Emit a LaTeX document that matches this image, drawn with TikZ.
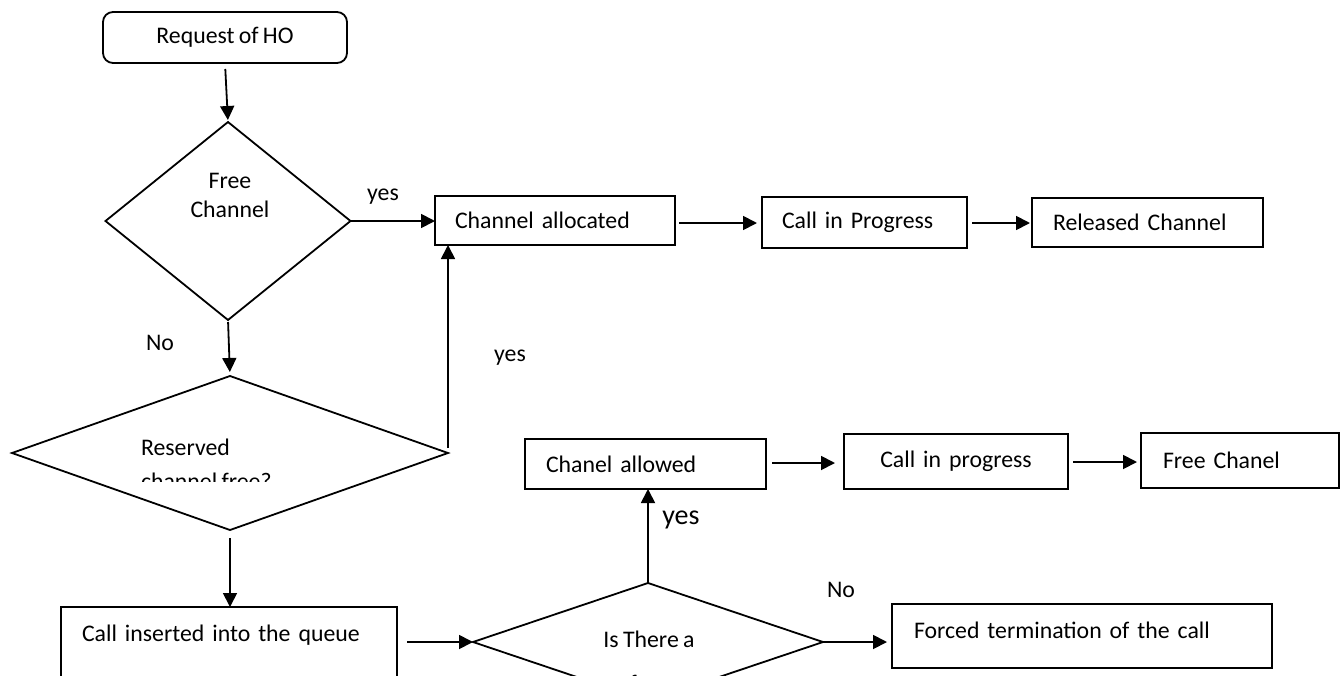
\documentclass[tikz,border=0pt]{standalone}
\usepackage{fontspec}
\setmainfont{Carlito}[WordSpace=0.8]
\usetikzlibrary{arrows.meta,shapes.geometric}
\begin{document}
\begin{tikzpicture}[x=1pt,y=-1pt,
  every node/.style={font=\fontsize{23.8}{34}\selectfont,outer sep=0pt},
  arr/.style={line width=1.8pt,-{Triangle[length=14pt,width=14pt]}},
  box/.style n args={3}{draw,line width=1.8pt,rectangle,anchor=north west,
    text width=#1pt,minimum height=#2pt,inner xsep=#3pt,inner ysep=0pt,align=left},
  dia/.style={draw,line width=1.8pt,diamond,inner sep=0pt},
  lbl/.style={inner sep=0pt}
]
\useasboundingbox (0,0) rectangle (1341,675);
\clip (0,0) rectangle (1341,675);

% start
\node[draw,line width=1.8pt,rounded corners=10pt,minimum width=244pt,minimum height=51pt,inner sep=0pt]
  (req) at (225,37.5) {Request of HO};

% decisions
\node[dia,minimum width=245pt,minimum height=198pt] (fc) at (228,221) {};
\node[lbl,align=center,font=\fontsize{23.8}{29}\selectfont,anchor=north] (fctext) at (230,173) {Free\\Channel};

\node[dia,minimum width=436pt,minimum height=154pt] (res) at (230,453) {};
\begin{scope}
  \clip (0,0) rectangle (1341,481);
  \node[lbl,align=left,anchor=north west] (restext) at (141,439) {Reserved\\channel free?};
\end{scope}

\node[dia,minimum width=350pt,minimum height=118pt] (ist) at (648,642) {};
\node[lbl,align=center,anchor=north,font=\fontsize{23.8}{44}\selectfont] (isttext) at (649,631) {Is There a\\free};

% process boxes
\node[box={200}{49}{20}] (challoc) at (435,196) {Channel allocated};
\node[box={165}{51}{20}] (cip1) at (762,197) {Call in Progress};
\node[box={189}{49}{21}] (rel) at (1032,198) {Released Channel};

\node[box={199}{50}{21}] (challow) at (525,439) {Chanel allowed};
\node[box={184}{55}{20},align=center] (cip2) at (844,434) {Call in progress};
\node[box={154}{55}{22}] (freech) at (1141,433) {Free Chanel};

\node[box={336}{0}{22},text height=34pt,text depth=30pt] (forced) at (892,604) {Forced termination of the call};
\node[box={294}{0}{21},text height=34pt,text depth=56pt] (ins) at (61,607) {Call inserted into the queue};

% labels
\node[lbl] (yes1) at (383,197) {yes};
\node[lbl] (no1) at (160,343) {No};
\node[lbl] (yes2) at (510,358) {yes};
\node[lbl,font=\fontsize{28}{34}\selectfont] (yes3) at (681,520) {yes};
\node[lbl] (no2) at (841,590) {No};

% connectors
\draw[arr,shorten <=6pt,shorten >=2pt] (req.south) -- (fc.north);
\draw[arr,shorten <=2pt,shorten >=4pt] (fc.south) -- (res.north);
\draw[arr] (fc.east) -- (fc.east -| challoc.west);
\draw[arr] (res.east) ++(0,-5) -- (res.east |- challoc.south);
\draw[arr,shorten <=4pt,shorten >=5pt] (challoc.east |- 0,223) -- (cip1.west |- 0,223);
\draw[arr,shorten <=5pt,shorten >=2pt] (cip1.east |- 0,223) -- (rel.west |- 0,223);
\draw[arr,shorten <=8pt] (res.south) -- (res.south |- ins.north);
\draw[arr,shorten <=10pt] (ist.west -| ins.east) -- (ist.west);
\draw[arr,shorten >=5pt] (ist.east) -- (ist.east -| forced.west);
\draw[arr] (ist.north) -- (ist.north |- challow.south);
\draw[arr,shorten <=6pt,shorten >=9pt] (challow.east |- 0,463) -- (cip2.west |- 0,463);
\draw[arr,shorten <=5pt,shorten >=4pt] (cip2.east |- 0,462) -- (freech.west |- 0,462);
\end{tikzpicture}
\end{document}
